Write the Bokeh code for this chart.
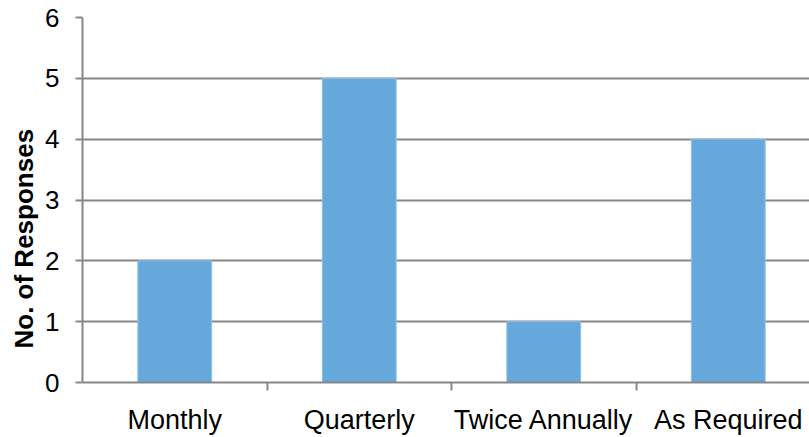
from bokeh.embed import file_html
from bokeh.models import ColumnDataSource, FixedTicker, Range1d, Title
from bokeh.plotting import figure
from bokeh.resources import INLINE

# Survey: how often reviews are carried out
categories = ["Monthly", "Quarterly", "Twice Annually", "As Required"]
responses = [2, 5, 1, 4]
y_ticks = [0, 1, 2, 3, 4, 5, 6]

BAR_COLOR = "#65A8DC"
AXIS_GREY = "#878787"
FONT = "Liberation Sans"

centers = [i + 0.5 for i in range(len(categories))]
boundaries = list(range(1, len(categories)))

source = ColumnDataSource(dict(x=centers, top=responses, cat=categories))

p = figure(
    width=809,
    height=437,
    output_backend="svg",
    toolbar_location=None,
    x_range=Range1d(0, 727 / 184.5),
    y_range=Range1d(0, 6),
    min_border_left=82,
    min_border_right=0,
    min_border_top=17,
    min_border_bottom=55,
)
p.outline_line_color = None
p.background_fill_color = "white"
p.border_fill_color = "white"

p.vbar(x="x", top="top", width=0.4, bottom=0, source=source,
       fill_color=BAR_COLOR, line_color="#8CC0E8", line_width=1)

# x axis: names at category centres, tick marks at category boundaries
xa = p.xaxis[0]
xa.ticker = FixedTicker(ticks=centers, minor_ticks=boundaries)
xa.major_label_overrides = {c: lab for c, lab in zip(centers, categories)}
xa.major_tick_out = 0
xa.major_tick_in = 0
xa.minor_tick_out = 8
xa.minor_tick_in = 0
xa.minor_tick_line_color = AXIS_GREY
xa.minor_tick_line_width = 2
xa.axis_line_color = AXIS_GREY
xa.axis_line_width = 2
xa.major_label_standoff = 14
xa.major_label_text_font = FONT
xa.major_label_text_font_size = "27px"
xa.major_label_text_color = "black"

# y axis
ya = p.yaxis[0]
ya.ticker = FixedTicker(ticks=y_ticks)
ya.minor_tick_line_color = None
ya.major_tick_out = 7
ya.major_tick_in = 0
ya.major_tick_line_color = AXIS_GREY
ya.major_tick_line_width = 2
ya.axis_line_color = AXIS_GREY
ya.axis_line_width = 2
ya.major_label_standoff = 16
ya.major_label_text_font = FONT
ya.major_label_text_font_size = "26px"
ya.major_label_text_color = "black"

p.xgrid.grid_line_color = None
p.ygrid.grid_line_color = AXIS_GREY
p.ygrid.grid_line_width = 2
p.ygrid.ticker = FixedTicker(ticks=y_ticks[1:])

# y axis title, starting a little above the bottom of the frame
p.add_layout(Title(
    text="No. of Responses", align="left", offset=34, standoff=8,
    text_font=FONT, text_font_size="26px", text_font_style="bold",
    text_color="black",
), "left")

open("out.html", "w").write(file_html(p, INLINE))
